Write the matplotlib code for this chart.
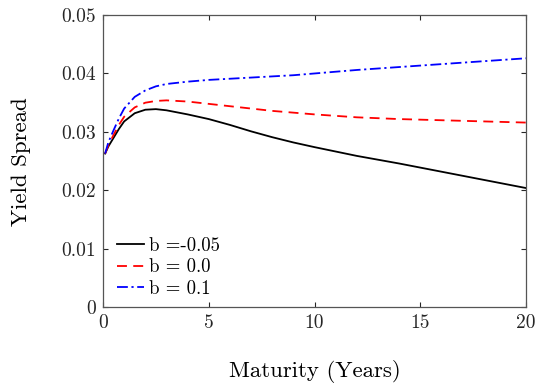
import matplotlib
matplotlib.use("Agg")
import matplotlib.pyplot as plt

# maturity grid (years) and yield spreads
maturity = [0.1, 0.25, 0.5, 0.75, 1, 1.5, 2, 2.5, 3, 4, 5, 6, 7, 8, 9, 10, 12, 14, 16, 18, 20]
spread_neg = [0.0263, 0.0275, 0.0290, 0.0305, 0.0318, 0.0332, 0.0338, 0.0339, 0.0337, 0.0330,
              0.0322, 0.0312, 0.0301, 0.0291, 0.0282, 0.0274, 0.0259, 0.0246, 0.0232, 0.0218, 0.0204]
spread_zero = [0.0263, 0.0277, 0.0295, 0.0312, 0.0326, 0.0342, 0.0350, 0.0353, 0.0354, 0.0352,
               0.0348, 0.0344, 0.0340, 0.0336, 0.0333, 0.0330, 0.0325, 0.0322, 0.0320, 0.0318, 0.0316]
spread_pos = [0.0263, 0.0282, 0.0303, 0.0323, 0.0340, 0.0360, 0.0371, 0.0378, 0.0382, 0.0386,
              0.0389, 0.0391, 0.0393, 0.0395, 0.0397, 0.0400, 0.0406, 0.0411, 0.0416, 0.0421, 0.0426]
labels = ["b =-0.05", "b = 0.0", "b = 0.1"]

x_ticks = [0, 5, 10, 15, 20]
y_ticks = [0, 0.01, 0.02, 0.03, 0.04, 0.05]
y_tick_labels = ["0", "0.01", "0.02", "0.03", "0.04", "0.05"]

plt.rcParams["font.family"] = ["cmr10", "DejaVu Serif"]
plt.rcParams["mathtext.fontset"] = "cm"
plt.rcParams["axes.unicode_minus"] = False

fig = plt.figure(figsize=(5.5, 3.85), dpi=100)
ax = fig.add_axes([0.1873, 0.2018, 0.7691, 0.7592])

ax.plot(maturity, spread_neg, color="black", linestyle="-", linewidth=1.3, label=labels[0])
ax.plot(maturity, spread_zero, color="red", linestyle=(0, (5.5, 3.5)), linewidth=1.3, label=labels[1])
ax.plot(maturity, spread_pos, color="blue", linestyle=(0, (6, 2, 1.2, 2)), linewidth=1.3, label=labels[2])

ax.set_xlim(0, 20)
ax.set_ylim(0, 0.05)
ax.set_xticks(x_ticks)
ax.set_xticklabels([str(t) for t in x_ticks])
ax.set_yticks(y_ticks)
ax.set_yticklabels(y_tick_labels)
ax.tick_params(direction="in", length=3.5, width=0.8, top=True, right=True,
               labelsize=14, colors="#262626", pad=5)
for s in ax.spines.values():
    s.set_color("#555555")
    s.set_linewidth(0.9)

ax.set_xlabel("Maturity (Years)", fontsize=16.5, labelpad=20)
ax.set_ylabel("Yield Spread", fontsize=16.5, labelpad=22)

ax.legend(loc="lower left", frameon=False, fontsize=13.5, handlelength=1.45,
          handletextpad=0.3, labelspacing=0.2, borderaxespad=0.1,
          bbox_to_anchor=(0.01, 0.0))

fig.savefig("out.png", dpi=100)
